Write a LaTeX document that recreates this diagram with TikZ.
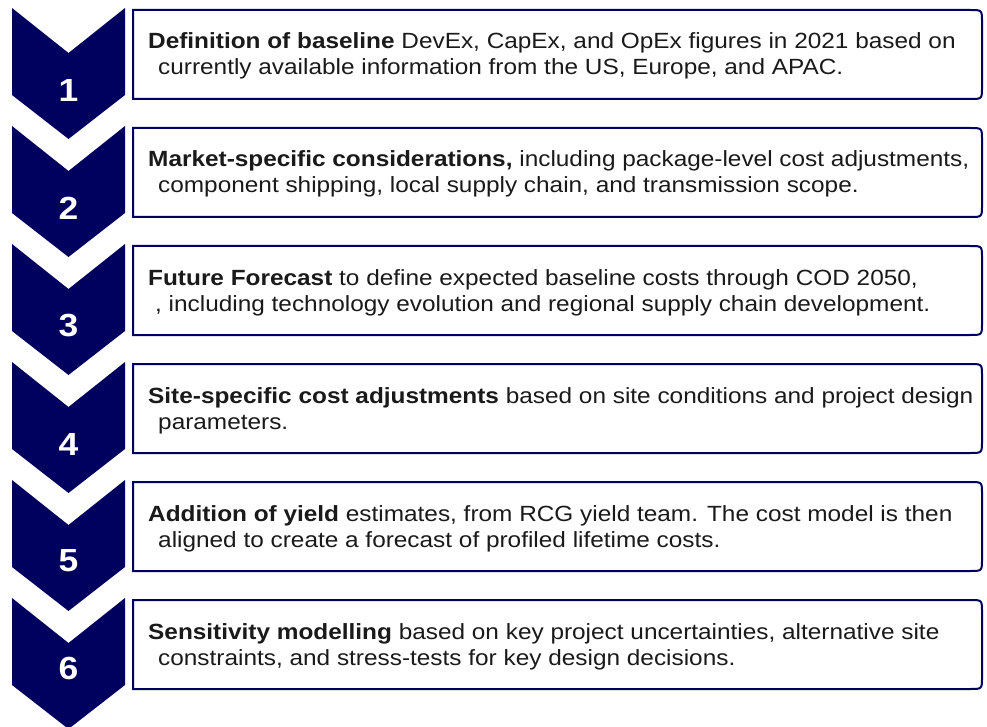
\documentclass[tikz,border=0pt]{standalone}
\usepackage{fontspec}
\newfontfamily\bodyfont[FakeStretch=1.108]{Liberation Sans}
\definecolor{navy}{HTML}{00005E}
\definecolor{ink}{HTML}{1A1A1A}
\tikzset{
  chev/.style={fill=navy, draw=none},
  stepframe/.style={draw=navy, line width=2pt, fill=white},
  txt/.style={inner sep=0pt, anchor=base west, text=ink,
    font=\bodyfont\fontsize{22}{26}\selectfont},
  num/.style={inner sep=0pt, text=white,
    font=\bodyfont\bfseries\fontsize{32}{32}\selectfont}
}
\begin{document}
\begin{tikzpicture}[x=1pt,y=-1pt]
\useasboundingbox (0,0) rectangle (987,727);
\clip (0,0) rectangle (987,727);
\foreach \k in {0,...,5}{
  \pgfmathsetmacro\t{8+118*\k}
  \pgfmathsetmacro\bt{10+118*\k}
  \pgfmathsetmacro\bb{99+118*\k}
  \fill[chev] (12,\t) -- (68.5,\t+45) -- (125,\t) -- (125,\t+87) -- (68.5,\t+131) -- (12,\t+87) -- cycle;
  \draw[stepframe] (133,\bb) -- (133,\bt) -- (970,\bt) .. controls (982,\bt) .. (982,\bt+12)
     -- (982,\bb-12) .. controls (982,\bb) .. (970,\bb) -- cycle;
}
\node[num] (n1) at (68.5,90) {1};
\node[num] (n2) at (68.5,208) {2};
\node[num] (n3) at (68.5,326) {3};
\node[num] (n4) at (68.5,444) {4};
\node[num] (n5) at (68.5,561) {5};
\node[num] (n6) at (68.5,668) {6};

\node[txt] (a1) at (148,49) {\textbf{Definition of baseline} DevEx, CapEx, and OpEx figures in 2021 based on};
\node[txt] (b1) at (158,75) {currently available information from the US, Europe, and APAC.};

\node[txt] (a2) at (148,167) {\textbf{Market-specific considerations,} including package-level cost adjustments,};
\node[txt] (b2) at (158,193) {component shipping, local supply chain, and transmission scope.};

\node[txt] (a3) at (148,285) {\textbf{Future Forecast} to define expected baseline costs through COD 2050,};
\node[txt] (b3) at (155,311) {, including technology evolution and regional supply chain development.};

\node[txt] (a4) at (148,403) {\textbf{Site-specific cost adjustments} based on site conditions and project design};
\node[txt] (b4) at (158,429) {parameters.};

\node[txt] (a5) at (148,521) {\textbf{Addition of yield} estimates, from RCG yield team. The cost model is then};
\node[txt] (b5) at (158,547) {aligned to create a forecast of profiled lifetime costs.};

\node[txt] (a6) at (148,639) {\textbf{Sensitivity modelling} based on key project uncertainties, alternative site};
\node[txt] (b6) at (158,665) {constraints, and stress-tests for key design decisions.};
\end{tikzpicture}
\end{document}
